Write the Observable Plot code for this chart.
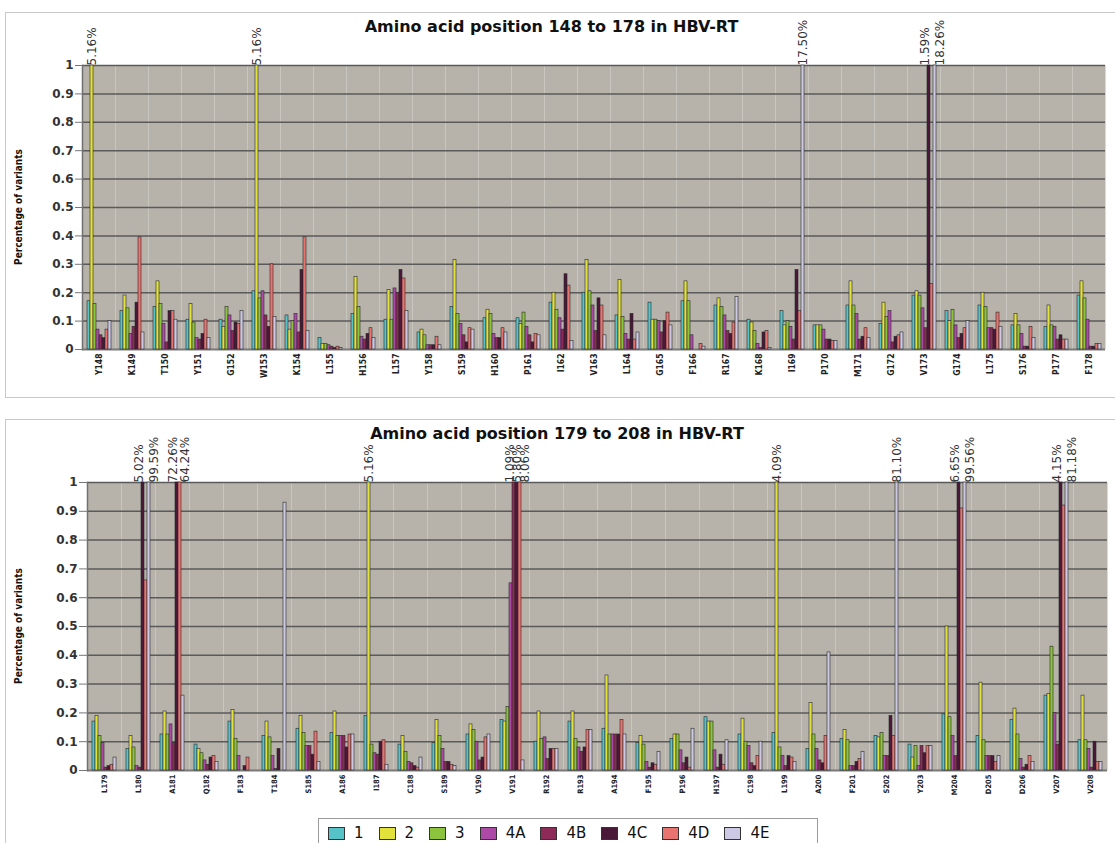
<!DOCTYPE html>
<html>
<head>
<meta charset="utf-8">
<script src="https://cdn.jsdelivr.net/npm/d3@7"></script>
<script src="https://cdn.jsdelivr.net/npm/@observablehq/plot@0.6"></script>
<style>
  html, body { margin: 0; padding: 0; background: #fff; width: 1115px; height: 843px; overflow: hidden; position: relative; font-family: "DejaVu Sans", sans-serif; }
  .panel { position: absolute; border: 1.5px solid #c9c9c9; box-sizing: border-box; }
  .chart { position: absolute; left: 0; }
  .title { position: absolute; left: 0; text-align: center; font: bold 16px "DejaVu Sans", sans-serif; color: #111; line-height: 18px; z-index: 3; }
  .ylab { position: absolute; width: 200px; height: 14px; line-height: 14px; text-align: center; font: bold 10px "DejaVu Sans Condensed", "DejaVu Sans", sans-serif; color: #111; transform: rotate(-90deg); z-index: 3; }
  #legend { position: absolute; left: 318px; top: 818px; width: 500px; height: 30px; border: 1px solid #9a9a9a; box-sizing: border-box; display: flex; align-items: center; padding-left: 9px; background: #fff; }
  .item { display: flex; align-items: center; margin-right: 15px; font: 15px "DejaVu Sans", sans-serif; color: #111; }
  .sw { width: 15px; height: 11px; border: 1.5px solid #333; margin-right: 9px; }
</style>
</head>
<body>
<div class="panel" style="left:5px; top:12px; width:1120px; height:386px;"></div>
<div class="panel" style="left:5px; top:419px; width:1120px; height:440px;"></div>
<div id="top" class="chart" style="top:15px;"></div>
<div id="bottom" class="chart" style="top:427px;"></div>
<div class="title" style="top:18px; width:1103px;">Amino acid position 148 to 178 in HBV-RT</div>
<div class="title" style="top:425px; width:1114px;">Amino acid position 179 to 208 in HBV-RT</div>
<div class="ylab" style="left:-80px; top:200px;">Percentage of variants</div>
<div class="ylab" style="left:-80px; top:619px;">Percentage of variants</div>
<div id="legend"></div>
<script>
// ---- series and colours ----
const seriesNames = ["1", "2", "3", "4A", "4B", "4C", "4D", "4E"];
const seriesColors = ["#55c3c8", "#e2e23a", "#8cc43e", "#ad4aa8", "#8e2a58", "#4a1838", "#e9736f", "#cdc8e4"];

// ---- y ticks ----
const yTicks = [0, 0.1, 0.2, 0.3, 0.4, 0.5, 0.6, 0.7, 0.8, 0.9, 1];

// ---- top panel: positions 148-178 ----
const topCats = ["Y148","K149","T150","Y151","G152","W153","K154","L155","H156","L157","Y158","S159","H160","P161","I162","V163","L164","G165","F166","R167","K168","I169","P170","M171","G172","V173","G174","L175","S176","P177","F178"];
const top1  = [0.17,0.135,0.15,0.105,0.105,0.205,0.12,0.04,0.125,0.105,0.06,0.15,0.11,0.11,0.165,0.2,0.12,0.165,0.17,0.155,0.105,0.135,0.085,0.155,0.09,0.19,0.135,0.155,0.085,0.08,0.19];
const top2  = [1,0.19,0.24,0.16,0.08,1,0.07,0.02,0.255,0.21,0.07,0.315,0.14,0.09,0.2,0.315,0.245,0.105,0.24,0.18,0.095,0.085,0.085,0.24,0.165,0.205,0.1,0.2,0.125,0.155,0.24];
const top3  = [0.16,0.145,0.16,0.095,0.15,0.18,0.1,0.02,0.15,0.105,0.05,0.125,0.125,0.13,0.14,0.205,0.115,0.105,0.17,0.15,0.065,0.1,0.085,0.155,0.115,0.19,0.14,0.15,0.085,0.085,0.18];
const top4A = [0.07,0.055,0.09,0.04,0.12,0.205,0.125,0.015,0.045,0.215,0.015,0.09,0.055,0.08,0.11,0.155,0.055,0.1,0.05,0.12,0.02,0.08,0.07,0.125,0.135,0.145,0.085,0.075,0.055,0.08,0.105];
const top4B = [0.05,0.08,0.025,0.035,0.065,0.12,0.06,0.01,0.035,0.2,0.015,0.05,0.04,0.05,0.07,0.065,0.035,0.06,0,0.065,0.005,0.035,0.035,0.035,0.025,0.075,0.04,0.075,0.01,0.035,0.01];
const top4C = [0.04,0.165,0.135,0.055,0.095,0.08,0.28,0.005,0.055,0.28,0.015,0.025,0.04,0.025,0.265,0.18,0.125,0.1,0,0.055,0.06,0.28,0.035,0.045,0.045,1,0.055,0.07,0.01,0.05,0.01];
const top4D = [0.07,0.395,0.135,0.105,0.09,0.3,0.395,0.01,0.075,0.25,0.045,0.075,0.075,0.055,0.225,0.155,0.035,0.13,0.02,0.095,0.065,0.135,0.03,0.075,0.05,0.23,0.075,0.13,0.08,0.035,0.02];
const top4E = [0.1,0.06,0.105,0.04,0.135,0.115,0.065,0.005,0.04,0.135,0.015,0.07,0.06,0.05,0.03,0.05,0.06,0.085,0.01,0.185,0.005,1,0.03,0.04,0.06,1,0.1,0.08,0.04,0.035,0.02];
const topLabelCat    = ["Y148", "W153", "I169", "V173", "V173"];
const topLabelSeries = ["2", "2", "4E", "4C", "4E"];
const topLabelText   = ["5.16%", "5.16%", "17.50%", "1.59%", "18.26%"];

// ---- bottom panel: positions 179-208 ----
const botCats = ["L179","L180","A181","Q182","F183","T184","S185","A186","I187","C188","S189","V190","V191","R192","R193","A194","F195","P196","H197","C198","L199","A200","F201","S202","Y203","M204","D205","D206","V207","V208"];
const bot1  = [0.17,0.075,0.125,0.09,0.17,0.12,0.145,0.13,0.19,0.09,0.095,0.125,0.175,0.1,0.17,0.145,0.095,0.11,0.185,0.125,0.13,0.075,0.11,0.12,0.09,0.195,0.12,0.175,0.26,0.105];
const bot2  = [0.19,0.12,0.205,0.075,0.21,0.17,0.19,0.205,1,0.12,0.175,0.16,0.17,0.205,0.205,0.33,0.12,0.125,0.17,0.18,1,0.235,0.14,0.115,0.045,0.5,0.305,0.215,0.265,0.26];
const bot3  = [0.12,0.08,0.125,0.06,0.11,0.115,0.13,0.12,0.09,0.065,0.12,0.14,0.22,0.11,0.11,0.125,0.09,0.125,0.17,0.1,0.08,0.125,0.105,0.13,0.085,0.185,0.105,0.125,0.43,0.105];
const bot4A = [0.095,0.015,0.16,0.035,0.05,0.05,0.085,0.12,0.06,0.03,0.075,0.1,0.65,0.115,0.08,0.125,0.03,0.07,0.07,0.085,0.05,0.075,0.015,0.05,0.015,0.12,0.05,0.04,0.2,0.075];
const bot4B = [0.01,0.01,0.095,0.02,0,0.005,0.085,0.12,0.055,0.025,0.03,0.035,1,0.04,0.065,0.125,0.01,0.025,0.01,0.025,0.015,0.035,0.015,0.05,0.085,0.05,0.05,0.01,0.09,0.01];
const bot4C = [0.015,1,1,0.045,0.015,0.075,0.055,0.08,0.1,0.015,0.03,0.045,1,0.075,0.08,0.125,0.025,0.045,0.055,0.015,0.05,0.025,0.03,0.19,0.06,1,0.05,0.02,1,0.1];
const bot4D = [0.02,0.66,1,0.05,0.045,0,0.135,0.125,0.105,0.01,0.02,0.115,1,0.075,0.14,0.175,0.02,0.01,0.02,0.05,0.045,0.12,0.04,0.12,0.085,0.91,0.03,0.05,0.92,0.03];
const bot4E = [0.045,1,0.26,0.03,0,0.93,0.03,0.125,0.02,0.045,0.015,0.125,0.035,0.075,0.14,0.125,0.065,0.145,0.105,0.1,0.03,0.41,0.065,1,0.085,1,0.05,0.03,1,0.03];
const botLabelCat    = ["L180","L180","A181","A181","I187","V191","V191","V191","L199","S202","M204","M204","V207","V207"];
const botLabelSeries = ["4C","4E","4C","4D","2","4B","4C","4D","2","4E","4C","4E","4C","4E"];
const botLabelText   = ["5.02%","99.59%","72.26%","64.24%","5.16%","1.09%","5.80%","8.06%","4.09%","81.10%","6.65%","99.56%","4.15%","81.18%"];

// ---- build tidy tables ----
function tidy(cats, cols) {
  const rows = [];
  cats.forEach((c, i) => seriesNames.forEach((s, k) => rows.push({cat: c, series: s, value: cols[k][i]})));
  return rows;
}
// labels sharing a category are fanned out: first to the left of its bar, last to the right
function labelRows(lc, ls, lt, rows) {
  return lc.map((c, i) => {
    const r = rows.find(d => d.cat === c && d.series === ls[i]);
    const same = lc.map((cc, j) => j).filter(j => lc[j] === c);
    const n = same.length, k = same.indexOf(i);
    const side = n === 1 ? "middle" : k === 0 ? "bottom" : k === n - 1 ? "top" : "middle";
    return {cat: c, series: ls[i], value: r.value, text: lt[i], side};
  });
}
const topRows = tidy(topCats, [top1, top2, top3, top4A, top4B, top4C, top4D, top4E]);
const botRows = tidy(botCats, [bot1, bot2, bot3, bot4A, bot4B, bot4C, bot4D, bot4E]);
const topLabels = labelRows(topLabelCat, topLabelSeries, topLabelText, topRows);
const botLabels = labelRows(botLabelCat, botLabelSeries, botLabelText, botRows);

function labelMark(labels, side) {
  return Plot.text(labels.filter(d => d.side === side), {
    fx: "cat", x: "series", y: "value", text: "text", rotate: -90,
    textAnchor: "start", lineAnchor: side, fontSize: 12, fill: "#333"
  });
}

function panel(cats, rows, labels, opts) {
  return Plot.plot({
    width: opts.width,
    height: opts.height,
    marginTop: opts.marginTop,
    marginBottom: opts.marginBottom,
    marginLeft: opts.marginLeft,
    marginRight: opts.marginRight,
    style: {fontFamily: "DejaVu Sans, sans-serif", background: "transparent", overflow: "visible"},
    fx: {domain: cats, padding: 0, label: null, axis: null},
    x: {domain: seriesNames, paddingInner: 0, paddingOuter: 0.45, axis: null},
    y: {domain: [0, 1], axis: null},
    color: {domain: seriesNames, range: seriesColors},
    marks: [
      Plot.frame({fill: "#b7b3ab", stroke: null}),
      Plot.gridY(yTicks, {stroke: "#5a5a5a", strokeOpacity: 1, strokeWidth: 1.5}),
      Plot.ruleY([0], {stroke: "#7a7a7a", strokeWidth: 1.5}),
      Plot.barY(rows, {fx: "cat", x: "series", y: "value", fill: "series", stroke: "#2a2a2a", strokeWidth: 0.6}),
      labelMark(labels, "bottom"),
      labelMark(labels, "middle"),
      labelMark(labels, "top"),
      Plot.axisY(yTicks, {tickFormat: d => String(+d.toFixed(1)), tickSize: opts.tickSize, tickPadding: 2, fontSize: 12, fontWeight: "bold", fill: "#333", stroke: "#777", label: null}),
      Plot.axisFx({anchor: "bottom", tickRotate: -90, tickSize: 0, tickPadding: 4, fontSize: opts.fxFont, fontWeight: "bold", fontFamily: "DejaVu Sans Condensed, DejaVu Sans, sans-serif", fill: "#222", label: null}),
      Plot.frame({facet: "super", anchor: "left", stroke: "#707070", strokeWidth: 1.5})
    ]
  });
}

document.getElementById("top").appendChild(panel(topCats, topRows, topLabels, {
  width: 1115, height: 379, marginTop: 50, marginBottom: 45, marginLeft: 72, marginRight: 0, tickSize: 7, fxFont: 8.5
}));
document.getElementById("bottom").appendChild(panel(botCats, botRows, botLabels, {
  width: 1115, height: 378, marginTop: 55, marginBottom: 35, marginLeft: 80, marginRight: 2, tickSize: 8, fxFont: 7.5
}));

// ---- legend ----
const legend = document.getElementById("legend");
seriesNames.forEach((s, i) => {
  const it = document.createElement("div");
  it.className = "item";
  const sw = document.createElement("div");
  sw.className = "sw";
  sw.style.background = seriesColors[i];
  const lb = document.createElement("span");
  lb.textContent = s;
  it.appendChild(sw); it.appendChild(lb);
  legend.appendChild(it);
});
</script>
</body>
</html>
